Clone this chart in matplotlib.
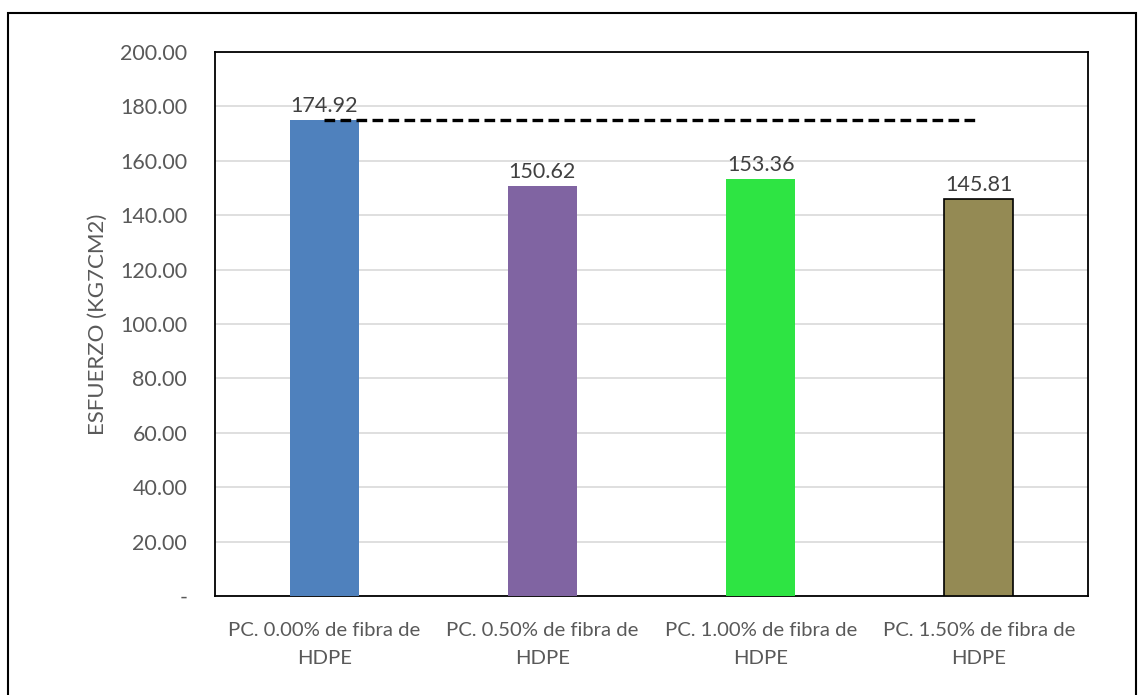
import matplotlib.pyplot as plt
from matplotlib.patches import Rectangle
from matplotlib.ticker import FuncFormatter

categories = [
    "PC. 0.00% de fibra de\nHDPE",
    "PC. 0.50% de fibra de\nHDPE",
    "PC. 1.00% de fibra de\nHDPE",
    "PC. 1.50% de fibra de\nHDPE",
]
esfuerzo = [174.92, 150.62, 153.36, 145.81]
referencia = [174.92, 174.92, 174.92, 174.92]
bar_colors = ["#4F81BD", "#8064A2", "#2EE443", "#948A54"]
bar_edges = ["none", "none", "none", "#000000"]

plt.rcParams["font.family"] = ["Lato", "DejaVu Sans"]

fig = plt.figure(figsize=(11.4, 6.95), dpi=100)
ax = fig.add_axes([0.1886, 0.1424, 0.7658, 0.7828])

x = range(len(categories))
for i, (v, c, e) in enumerate(zip(esfuerzo, bar_colors, bar_edges)):
    ax.bar(i, v, width=0.316, color=c, edgecolor=e, linewidth=1.2 if e != "none" else 0, zorder=3)
    ax.text(i, v + 1.5, f"{v:.2f}", ha="center", va="bottom", fontsize=15.5, color="#404040", zorder=5)

ax.plot(list(x), referencia, color="black", linestyle=(0, (3.2, 1.6)), linewidth=2.4, zorder=4)

ax.set_xlim(-0.5, len(categories) - 0.5)
ax.set_ylim(0, 200)
ax.set_yticks(range(0, 201, 20))
ax.yaxis.set_major_formatter(FuncFormatter(lambda v, p: "-" if v == 0 else f"{v:.2f}"))
ax.set_xticks(list(x))
ax.set_xticklabels(categories, fontsize=14.6, color="#595959", linespacing=1.75)
ax.tick_params(axis="y", labelsize=15.5, labelcolor="#595959", length=0, pad=20)
ax.tick_params(axis="x", length=0, pad=19)
ax.grid(axis="y", color="#D9D9D9", linewidth=1.2, zorder=0)
ax.set_axisbelow(True)
for s in ax.spines.values():
    s.set_color("black")
    s.set_linewidth(1.3)

ax.set_ylabel("ESFUERZO (KG7CM2)", fontsize=16, color="#595959", labelpad=9)

# outer chart frame
fig.patches.append(Rectangle((8 / 1140, -0.01), 1128 / 1140, 1 - 13 / 695 + 0.01,
                             transform=fig.transFigure, fill=False, edgecolor="black",
                             linewidth=1.5))

fig.savefig("out.png", dpi=100)
